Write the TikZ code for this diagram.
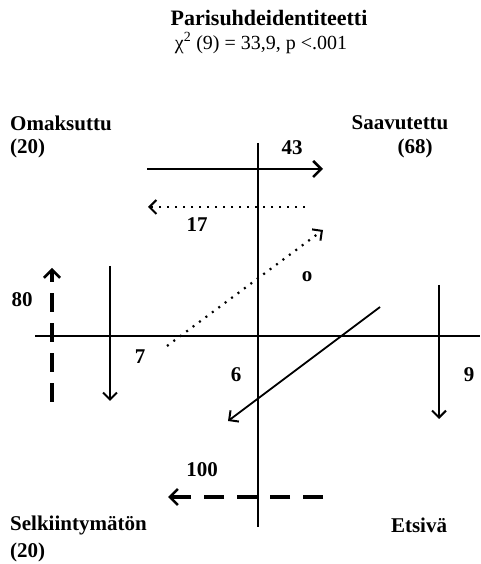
\documentclass[tikz,border=0pt]{standalone}
\usepackage{fontspec}
\setmainfont{Liberation Serif}
\usetikzlibrary{arrows.meta}
\begin{document}
\begin{tikzpicture}[x=1pt,y=1pt,
  lbl/.style={font=\fontsize{21}{23}\selectfont\bfseries, inner sep=0pt},
  num/.style={font=\fontsize{21}{23}\selectfont\bfseries, inner sep=0pt},
  axis/.style={line width=2pt},
  barb/.style={-{Straight Barb[length=7pt,width=14pt,line width=2pt]}},
  solidarrow/.style={barb, line width=1.8pt},
  bigarrow/.style={-{Straight Barb[length=8pt,width=16pt,line width=2.6pt]}, line width=2.6pt},
  dotarrow/.style={barb, line width=2.2pt, dash pattern=on 2pt off 6pt},
  dasharrow/.style={-{Straight Barb[length=8pt,width=16pt,line width=2.6pt]}, line width=3.8pt, dash pattern=on 19pt off 11pt}
]
\useasboundingbox (0,0) rectangle (480,564);
% title
\node[font=\fontsize{22}{24}\selectfont\bfseries, inner sep=0pt] (title) at (269,546) {Parisuhdeidentiteetti};
\node[font=\fontsize{20}{22}\selectfont, inner sep=0pt] (stat) at (261,521) {χ\textsuperscript{2} (9) = 33,9, p <.001};
% axes
\coordinate (vt) at (258,421);
\coordinate (vb) at (258,37);
\coordinate (hl) at (35,228);
\coordinate (hr) at (480,228);
\draw[axis] (vt) -- (vb);
\draw[axis] (hl) -- (hr);
% corner labels
\node[lbl, anchor=west] (om) at (10,441) {Omaksuttu};
\node[lbl, anchor=west] (om2) at (10,416) {(20)};
\node[lbl] (sa) at (400,441) {Saavutettu};
\node[lbl] (sa2) at (415,416) {(68)};
\node[lbl, anchor=west] (se) at (10,39) {Selkiintymätön};
\node[lbl, anchor=west] (se2) at (10,12) {(20)};
\node[lbl] (et) at (419,39) {Etsivä};
% numbers
\node[num] (n43) at (292,416) {43};
\node[num] (n17) at (197,339) {17};
\node[num] (n0) at (307,287) {o};
\node[num] (n80) at (22,264) {80};
\node[num] (n7) at (140,207) {7};
\node[num] (n6) at (236,189) {6};
\node[num] (n9) at (469,189) {9};
\node[num] (n100) at (202,94) {100};
% arrows
\coordinate (a43s) at (147,395);
\coordinate (a43e) at (323,395);
\draw[bigarrow] (a43s) -- (a43e);
\coordinate (a17s) at (305,357);
\coordinate (a17e) at (148,357);
\draw[dotarrow] (a17s) -- (a17e);
\coordinate (a0s) at (167,218);
\coordinate (a0e) at (323,334);
\draw[dotarrow] (a0s) -- (a0e);
\coordinate (a80s) at (52,162);
\coordinate (a80e) at (52,296);
\draw[dasharrow] (a80s) -- (a80e);
\coordinate (a7s) at (110,298);
\coordinate (a7e) at (110,163);
\draw[solidarrow] (a7s) -- (a7e);
\coordinate (a6s) at (380,257);
\coordinate (a6e) at (228,143);
\draw[solidarrow] (a6s) -- (a6e);
\coordinate (a9s) at (439,279);
\coordinate (a9e) at (439,145);
\draw[solidarrow] (a9s) -- (a9e);
\coordinate (a100s) at (323,67);
\coordinate (a100e) at (168,67);
\draw[dasharrow, line width=3.2pt, dash pattern=on 20pt off 13pt] (a100s) -- (a100e);
\end{tikzpicture}
\end{document}
